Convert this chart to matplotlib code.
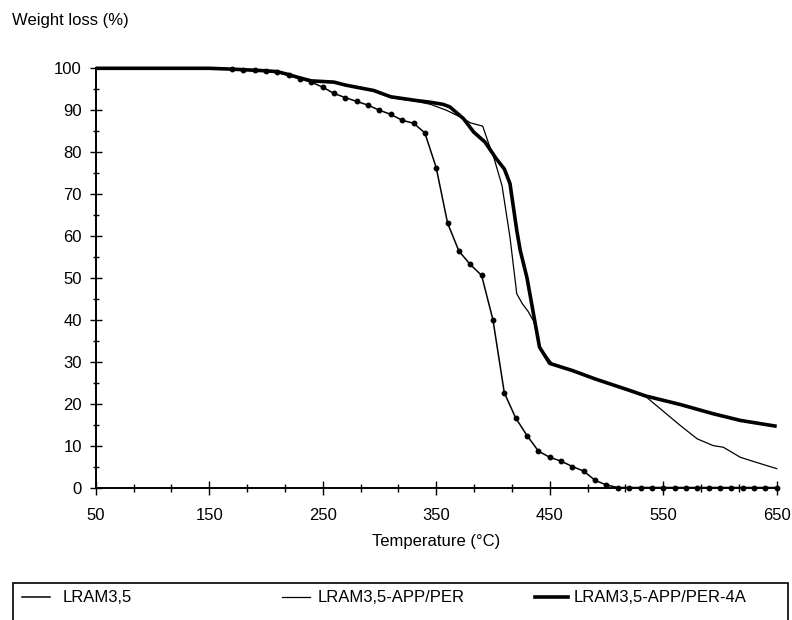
import matplotlib
matplotlib.use("Agg")
import matplotlib.pyplot as plt
from matplotlib.lines import Line2D
from matplotlib.patches import Rectangle
from matplotlib.ticker import FixedLocator

plt.rcParams["font.family"] = ["Liberation Sans", "DejaVu Sans"]

# --- TGA data: temperature (°C) vs remaining weight (%) ---
temp_lram = list(range(50, 660, 10))
weight_lram = [100, 100, 100, 100, 100, 100, 100, 100, 100, 100, 100, 100,
               99.8, 99.7, 99.6, 99.4, 99.2, 98.3, 97.5, 96.7, 95.5, 94.0,
               93.0, 92.1, 91.2, 90.0, 89.0, 87.6, 86.9, 84.6, 76.3, 63.1,
               56.4, 53.2, 50.6, 40.0, 22.6, 16.6, 12.4, 8.7, 7.2, 6.3,
               5.0, 3.9, 1.7, 0.6, 0, 0, 0, 0, 0, 0, 0, 0, 0, 0, 0, 0, 0, 0, 0]

temp_app = [50, 150, 170, 200, 210, 220, 230, 240, 260, 270, 295, 310, 333,
            345, 359, 374, 380, 391, 395, 401, 408, 415, 421, 426, 431, 436,
            441, 453, 470, 488, 505, 518, 535, 550, 565, 580, 594, 603, 618,
            632, 650]
weight_app = [100, 100, 99.8, 99.4, 99.2, 98.4, 97.6, 97.0, 96.6, 96.0, 94.6,
              93.0, 92.1, 91.4, 90.0, 88.0, 87.0, 86.2, 83.0, 78.5, 72.0, 59.7,
              46.2, 43.8, 42.0, 39.6, 33.5, 29.3, 28.0, 26.2, 24.5, 23.2, 21.6,
              18.2, 14.8, 11.6, 10.0, 9.6, 7.2, 6.0, 4.5]

temp_4a = [50, 150, 170, 200, 210, 220, 230, 240, 260, 270, 295, 310, 333,
           345, 356, 362, 374, 383, 393, 403, 410, 415, 421, 424, 430, 436,
           441, 450, 470, 490, 520, 535, 565, 594, 618, 650]
weight_4a = [100, 100, 99.8, 99.4, 99.2, 98.5, 97.7, 97.0, 96.7, 96.0, 94.7,
             93.2, 92.3, 91.9, 91.4, 90.8, 88.0, 84.8, 82.4, 78.4, 76.0, 72.5,
             61.3, 56.6, 50.0, 41.0, 33.5, 29.6, 27.9, 25.9, 23.2, 21.8, 19.8,
             17.6, 16.0, 14.6]

labels = ["LRAM3,5", "LRAM3,5-APP/PER", "LRAM3,5-APP/PER-4A"]
x_major = [50, 150, 250, 350, 450, 550, 650]
y_major = list(range(0, 101, 10))

W, H = 792, 620
fig = plt.figure(figsize=(W / 100, H / 100), dpi=100)
ax = fig.add_axes([95.7 / W, 1 - 487.5 / H, (776.7 - 95.7) / W, (487.5 - 68.3) / H])

line_widths = [1.1, 0.9, 2.6]

# dots only from where the curve leaves the 100 % plateau
ax.plot(temp_lram, weight_lram, color="black", clip_on=False, zorder=3,
        lw=line_widths[0], marker="o", ms=3.2, markevery=slice(12, None))
ax.plot(temp_app, weight_app, color="black", clip_on=False, zorder=3,
        lw=line_widths[1])
ax.plot(temp_4a, weight_4a, color="black", clip_on=False, zorder=3,
        lw=line_widths[2], solid_capstyle="butt")

ax.set_xlim(50, 650)
ax.set_ylim(0, 100)
for s in ("top", "right"):
    ax.spines[s].set_visible(False)
for s in ("left", "bottom"):
    ax.spines[s].set_linewidth(1.4)

ax.xaxis.set_major_locator(FixedLocator(x_major))
ax.xaxis.set_minor_locator(FixedLocator(
    [50 + k * 100 / 3 for k in range(19) if k % 3 != 0]))
ax.yaxis.set_major_locator(FixedLocator(y_major))
ax.yaxis.set_minor_locator(FixedLocator([v + 5 for v in y_major[:-1]]))

ax.tick_params(axis="x", which="major", direction="inout", length=10, width=1.0,
               pad=10, labelsize=12)
ax.tick_params(axis="x", which="minor", direction="inout", length=6, width=1.0)
ax.tick_params(axis="y", which="major", direction="inout", length=8, width=1.0,
               pad=6, labelsize=12)
ax.tick_params(axis="y", which="minor", direction="inout", length=5, width=1.0)

ax.set_xlabel("Temperature (°C)", fontsize=12, labelpad=8)
fig.text(12 / W, 1 - 20 / H, "Weight loss (%)", fontsize=12, ha="left", va="center")

# legend box along the bottom edge
fig.add_artist(Rectangle((13 / W, -0.05), (788 - 13) / W, 0.05 + 1 - 583 / H,
                         transform=fig.transFigure, fill=False, lw=1.2,
                         edgecolor="black"))
leg_y = 1 - 597 / H
entries = [(22, 50, 63), (282, 310, 318), (535, 568, 574)]
for (x0, x1, xt), lab, lw in zip(entries, labels, line_widths):
    fig.add_artist(Line2D([x0 / W, x1 / W], [leg_y, leg_y], transform=fig.transFigure,
                          color="black", lw=lw))
    fig.text(xt / W, leg_y, lab, fontsize=12, ha="left", va="center")

fig.savefig("out.png", dpi=100)
